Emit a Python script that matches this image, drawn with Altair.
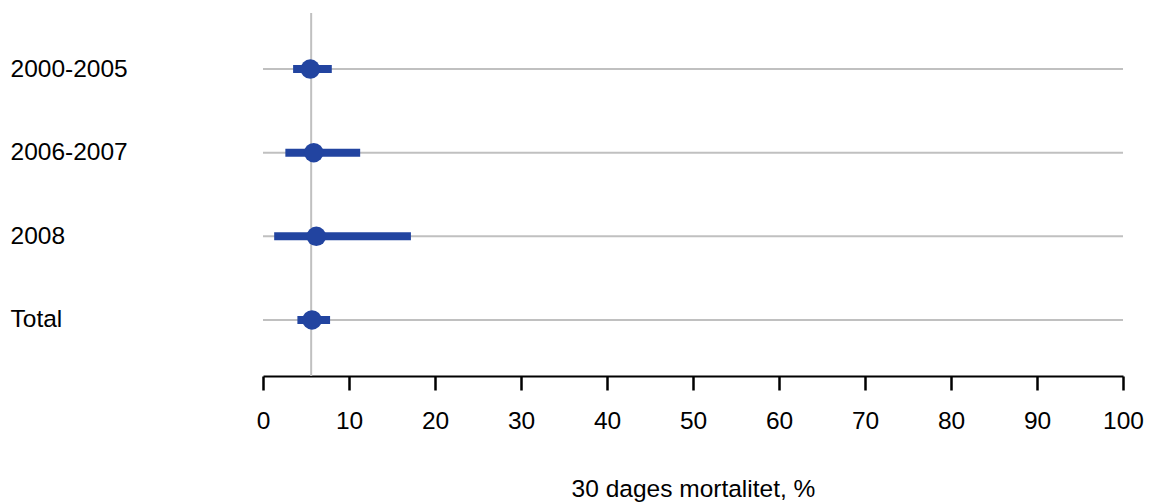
import altair as alt
import pandas as pd

periods = ["2000-2005", "2006-2007", "2008", "Total"]
estimate = [5.5, 5.9, 6.2, 5.7]
ci_low = [3.5, 2.6, 1.3, 4.0]
ci_high = [8.0, 11.3, 17.2, 7.8]
reference = 5.6

BLUE = "#2244a0"
GRID = "#c0c0c0"
FONT = "Liberation Sans"

df = pd.DataFrame({
    "period": periods,
    "est": estimate,
    "lo": ci_low,
    "hi": ci_high,
    "x0": 0,
    "x1": 100,
})

y_enc = alt.Y(
    "period:N",
    sort=periods,
    scale=alt.Scale(type="point", padding=0.67),
    axis=alt.Axis(
        title=None, domain=False, ticks=False, grid=False,
        labelAlign="left", labelPadding=253, labelFontSize=24.5,
        labelColor="black", labelFont=FONT,
    ),
)

base = alt.Chart(df)

grid = base.mark_rule(color=GRID, strokeWidth=2).encode(
    y=y_enc,
    x=alt.X("x0:Q"),
    x2="x1:Q",
)

ref = alt.Chart(pd.DataFrame({"ref": [reference]})).mark_rule(
    color=GRID, strokeWidth=2
).encode(x="ref:Q")

bars = base.mark_rule(color=BLUE, strokeWidth=8).encode(
    y=y_enc,
    x=alt.X(
        "lo:Q",
        scale=alt.Scale(domain=[0, 100], nice=False),
        axis=alt.Axis(
            title="30 dages mortalitet, %", values=list(range(0, 101, 10)),
            grid=False, domainColor="black", domainWidth=2,
            tickColor="black", tickWidth=2.5, tickSize=14, labelFlush=False,
            labelFontSize=24.5, labelPadding=19, labelColor="black", labelFont=FONT,
            titleFontSize=24.5, titleFontWeight="normal", titleColor="black",
            titleFont=FONT, titlePadding=45,
        ),
    ),
    x2="hi:Q",
)

dots = base.mark_circle(color=BLUE, opacity=1, size=380).encode(
    y=y_enc,
    x="est:Q",
)

chart = (
    (grid + ref + bars + dots)
    .properties(
        width=860, height=363,
        autosize=alt.AutoSizeParams(type="none"),
        padding={"left": 255, "top": 5, "right": 21, "bottom": 126},
    )
    .configure_view(strokeWidth=0)
)

chart.save("out.html", embed_options={"renderer": "svg", "actions": False})
